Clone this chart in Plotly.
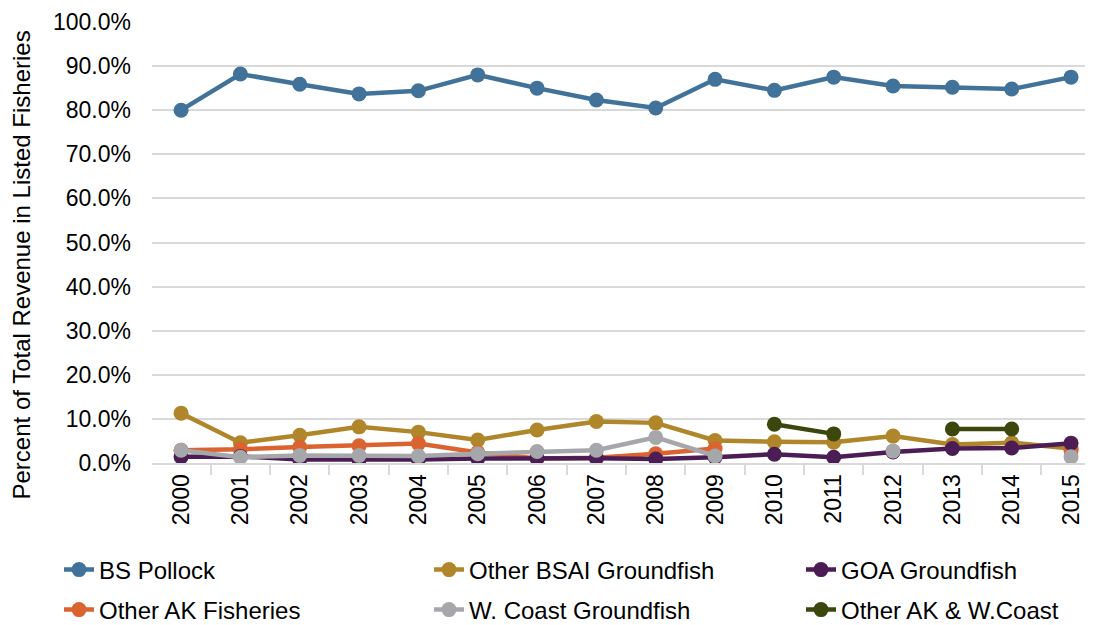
import plotly.graph_objects as go

years = [str(y) for y in range(2000, 2016)]

bs_pollock = [80.0, 88.2, 85.9, 83.7, 84.4, 88.0, 85.0, 82.3, 80.5, 87.0, 84.5, 87.5, 85.5, 85.2, 84.8, 87.5]
other_bsai = [11.3, 4.6, 6.3, 8.2, 7.0, 5.2, 7.5, 9.4, 9.1, 5.1, 4.8, 4.7, 6.1, 4.2, 4.6, 3.3]
goa = [1.4, 1.5, 0.8, 0.7, 0.8, 1.0, 1.1, 1.1, 0.9, 1.3, 2.0, 1.3, 2.5, 3.3, 3.4, 4.5]
other_ak = [2.9, 3.1, 3.6, 3.9, 4.4, 2.4, 1.0, 1.2, 2.1, 3.3, None, None, 2.6, None, None, 2.8]
wcoast = [2.9, 1.3, 1.7, 1.7, 1.6, 2.1, 2.6, 2.9, 5.8, 1.6, None, None, 2.7, None, None, 1.4]
other_ak_wc = [None] * 10 + [8.8, 6.6, None, 7.7, 7.7, None]

PALETTE = {
    "pollock": "#41729A",
    "bsai": "#B0862A",
    "goa": "#4B1D54",
    "other_ak": "#DB6330",
    "wcoast": "#A6A7AA",
    "ak_wc": "#3C470E",
    "grid": "#D9D9D9",
    "text": "#000000",
}

# page is drawn with an 8px body margin, so the figure is a bit smaller
W, H = 1085, 617
ML, MT, MB = 144, 14, 162

# (name, values, colour key, legend slot); listed in drawing order
series = [
    ("Other BSAI Groundfish", other_bsai, "bsai", 1),
    ("Other AK Fisheries", other_ak, "other_ak", 3),
    ("GOA Groundfish", goa, "goa", 2),
    ("W. Coast Groundfish", wcoast, "wcoast", 4),
    ("Other AK & W.Coast", other_ak_wc, "ak_wc", 5),
    ("BS Pollock", bs_pollock, "pollock", 0),
]

# legend slot -> (left px, centre px) on the page
legend_pos = [(59, 570), (429, 570), (801, 570), (59, 610), (429, 610), (801, 610)]


def legend_id(slot):
    return "legend" if slot == 0 else f"legend{slot + 1}"


fig = go.Figure()
for name, vals, key, slot in series:
    fig.add_trace(go.Scatter(
        x=years, y=vals, name=name, mode="lines+markers",
        line=dict(color=PALETTE[key], width=4.5),
        marker=dict(color=PALETTE[key], size=15),
        connectgaps=False, legend=legend_id(slot), showlegend=True,
    ))

legends = {}
for slot, (px, py) in enumerate(legend_pos):
    legends[legend_id(slot)] = dict(
        xref="container", yref="container",
        x=(px - 8) / W, y=1 - (py - 8) / H,
        xanchor="left", yanchor="middle",
        font=dict(size=24), bgcolor="rgba(0,0,0,0)",
    )

plot_w = W - ML
plot_h = H - MT - MB
fig.add_annotation(
    text="Percent of Total Revenue in Listed Fisheries",
    xref="paper", yref="paper",
    x=(21 - 8 - ML) / plot_w, y=(463 - 265.5) / plot_h,
    xanchor="center", yanchor="middle", textangle=-90,
    showarrow=False, font=dict(size=24),
)

fig.update_layout(
    width=W, height=H, showlegend=True,
    paper_bgcolor="white", plot_bgcolor="white",
    font=dict(family="Liberation Sans, Arial, sans-serif", size=23, color=PALETTE["text"]),
    margin=dict(l=ML, r=0, t=MT, b=MB, autoexpand=False),
    **legends,
)
fig.update_xaxes(
    type="category", range=[-0.49, 15.37],
    tickangle=-90, ticks="outside", tickson="boundaries",
    ticklen=10, tickcolor=PALETTE["grid"], tickwidth=2,
    showline=True, linecolor=PALETTE["grid"], linewidth=2,
    showgrid=False, tickfont=dict(size=23), automargin=False,
)
fig.update_yaxes(
    range=[0, 100], dtick=10, tickformat=".1f", ticksuffix="%",
    showgrid=True, gridcolor=PALETTE["grid"], gridwidth=2,
    zeroline=False, showline=False, automargin=False,
    ticklabelstandoff=20, tickfont=dict(size=23),
)

fig.write_html("out.html")
